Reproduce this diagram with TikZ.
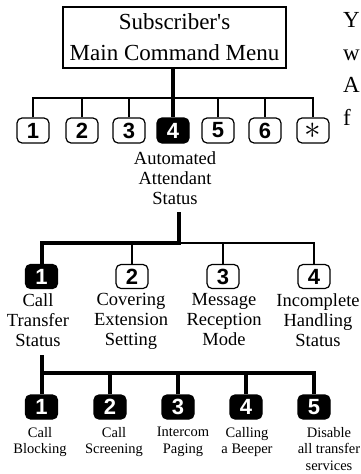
\documentclass[tikz,border=0pt]{standalone}
\usepackage{fontspec}
\setmainfont{Liberation Serif}
\newfontfamily\plainserif{Liberation Serif}
\newfontfamily\keyfamily{Liberation Sans}
\usetikzlibrary{positioning}
\tikzset{
    menubox/.style = {rectangle, draw=black, line width=1.2pt, minimum width=223pt, minimum height=61pt, inner sep=0pt, align=center, font=\plainserif\fontsize{23}{31}\selectfont},
    keynode/.style = {rectangle, rounded corners=5pt, draw=black, line width=1.2pt, fill=white, minimum width=32pt, minimum height=24pt, inner sep=0pt, font=\keyfamily\bfseries\fontsize{22}{22}\selectfont},
    keynodeb/.style = {keynode, fill=black, text=white},
    labelbig/.style = {anchor=north, align=center, inner sep=0pt, font=\fontsize{18.5}{20}\selectfont},
    labelsmall/.style = {anchor=north, align=center, inner sep=0pt, font=\fontsize{14.5}{16.5}\selectfont},
    sidetext/.style = {anchor=base west, inner sep=0pt, font=\fontsize{23}{23}\selectfont},
    edgen/.style = {line width=1.2pt},
    edgeb/.style = {line width=4pt, line join=miter}
}

\begin{document}
\begin{tikzpicture}[x=1pt, y=-1pt]
  \useasboundingbox (0,0) rectangle (361,474);
  \clip (0,0) rectangle (361,474);

  % main menu
  \node[menubox] at (174.5,37.5) (menu) {Subscriber's\\Main Command Menu};

  \node[keynode, minimum height=25pt] at (33,130.5)  (k1) {1};
  \node[keynode, minimum height=25pt] at (82,130.5)  (k2) {2};
  \node[keynode, minimum height=25pt] at (129,130.5) (k3) {3};
  \node[keynodeb, minimum height=25pt] at (173,130.5) (k4) {4};
  \node[keynode, minimum height=25pt] at (218,130.5) (k5) {5};
  \node[keynode, minimum height=25pt] at (265,130.5) (k6) {6};
  \node[keynode, minimum height=25pt] at (313,130.5) (k7) {\scalebox{1.6}{$\ast$}};

  \node[labelbig] at (175,151.5) (lab4) {Automated\\Attendant\\Status};

  % automated attendant status
  \node[keynodeb] at (41.5,276.5) (m1) {1};
  \node[keynode]  at (132,276.5)  (m2) {2};
  \node[keynode]  at (223,276.5)  (m3) {3};
  \node[keynode]  at (314,276.5)  (m4) {4};

  \node[labelbig] at (38,293)  (mlab1) {Call\\Transfer\\Status};
  \node[labelbig] at (131,293) (mlab2) {Covering\\Extension\\Setting};
  \node[labelbig] at (224,293) (mlab3) {Message\\Reception\\Mode};
  \node[labelbig] at (318,293) (mlab4) {Incomplete\\Handling\\Status};

  % call transfer status
  \node[keynodeb] at (41.5,407) (t1) {1};
  \node[keynodeb] at (110,407)  (t2) {2};
  \node[keynodeb] at (178,407)  (t3) {3};
  \node[keynodeb] at (246,407)  (t4) {4};
  \node[keynodeb] at (314,407)  (t5) {5};

  \node[labelsmall] at (40,427)  (tlab1) {Call\\Blocking};
  \node[labelsmall] at (114,427) (tlab2) {Call\\Screening};
  \node[labelsmall] at (183,427) (tlab3) {Intercom\\Paging};
  \node[labelsmall] at (247,427) (tlab4) {Calling\\a Beeper};
  \node[labelsmall] at (329,427) (tlab5) {Disable\\all transfer\\services};

  % text running off the right edge
  \node[sidetext] at (343,27)  (side1) {Y};
  \node[sidetext] at (343,60)  (side2) {w};
  \node[sidetext] at (343,92)  (side3) {A};
  \node[sidetext] at (343,125) (side4) {f};

  \coordinate (fork1) at (173,98);
  \draw[edgen] (k1.north) |- (fork1) -| (k7.north);
  \draw[edgen] (k2.north) -- (k2.north |- fork1);
  \draw[edgen] (k3.north) -- (k3.north |- fork1);
  \draw[edgen] (k5.north) -- (k5.north |- fork1);
  \draw[edgen] (k6.north) -- (k6.north |- fork1);
  \draw[edgeb] (menu.south -| k4.north) -- (k4.north);

  \coordinate (stat1) at (179,212);
  \coordinate (fork2) at (179,243);
  \draw[edgen] (fork2) -| (m4.north);
  \draw[edgen] (m2.north) -- (m2.north |- fork2);
  \draw[edgen] (m3.north) -- (m3.north |- fork2);
  \draw[edgeb] (stat1) -- (fork2) -| (m1.north);

  \coordinate (stat2) at (41.5,355);
  \coordinate (fork3) at (41.5,373);
  \draw[edgeb] (stat2) -- (t1.north);
  \draw[edgeb] (fork3) -| (t5.north);
  \draw[edgeb] (t2.north) -- (t2.north |- fork3);
  \draw[edgeb] (t3.north) -- (t3.north |- fork3);
  \draw[edgeb] (t4.north) -- (t4.north |- fork3);

 \end{tikzpicture}
\end{document}
